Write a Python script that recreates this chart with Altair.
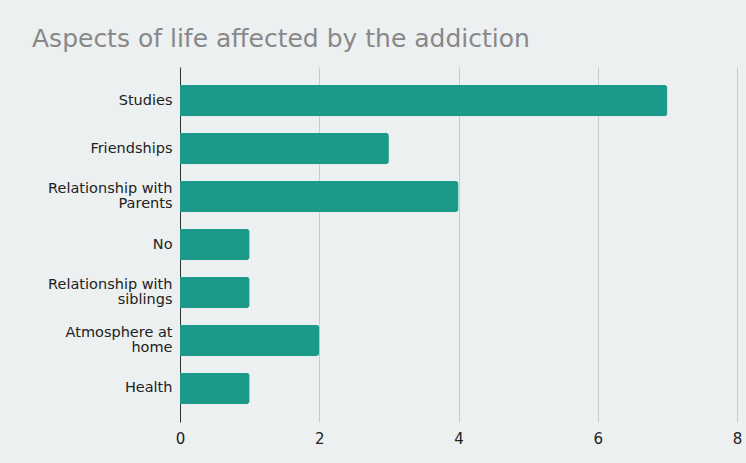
import altair as alt
import pandas as pd

categories = ["Studies", "Friendships", "Relationship with\nParents", "No",
              "Relationship with\nsiblings", "Atmosphere at\nhome", "Health"]
counts = [7, 3, 4, 1, 1, 2, 1]

df = pd.DataFrame({"aspect": categories, "count": counts})

FONT = "DejaVu Sans"

chart = alt.Chart(df).mark_bar(
    color="#1b9a8a", cornerRadiusEnd=3
).encode(
    x=alt.X("count:Q",
            scale=alt.Scale(domain=[0, 8], nice=False),
            axis=alt.Axis(title=None, values=[0, 2, 4, 6, 8], format="d",
                          domain=False, ticks=False, grid=True,
                          gridColor="#c9cccd", gridWidth=1, labelFlush=False,
                          labelFont=FONT, labelFontSize=15, labelColor="#222222",
                          labelPadding=9)),
    y=alt.Y("aspect:N", sort=categories,
            scale=alt.Scale(paddingInner=0.35, paddingOuter=0.375),
            axis=alt.Axis(title=None, domain=True, domainColor="#333333",
                          domainWidth=1, ticks=False, grid=False,
                          labelFont=FONT, labelFontSize=14.5, labelColor="#222222",
                          labelPadding=8, labelLineHeight=15, labelLimit=300,
                          labelOffset={"condition": {"test": "indexof(datum.value, '\\n') >= 0", "value": -7.5}, "value": 0},
                          labelExpr="split(datum.label, '\\n')")),
).properties(
    width=557,
    height=355,
    autosize=alt.AutoSizeParams(type="none"),
    padding={"left": 180, "top": 67, "right": 9, "bottom": 41},
    background="#ecf0f1",
    title=alt.TitleParams(
        "Aspects of life affected by the addiction",
        anchor="start", frame="group", dx=-148, dy=25, offset=20,
        font=FONT, fontSize=25, fontWeight="normal", color="#888888",
        baseline="alphabetic",
    ),
).configure_view(stroke=None)

chart.save("out.html", embed_options={"renderer": "svg", "actions": False})
